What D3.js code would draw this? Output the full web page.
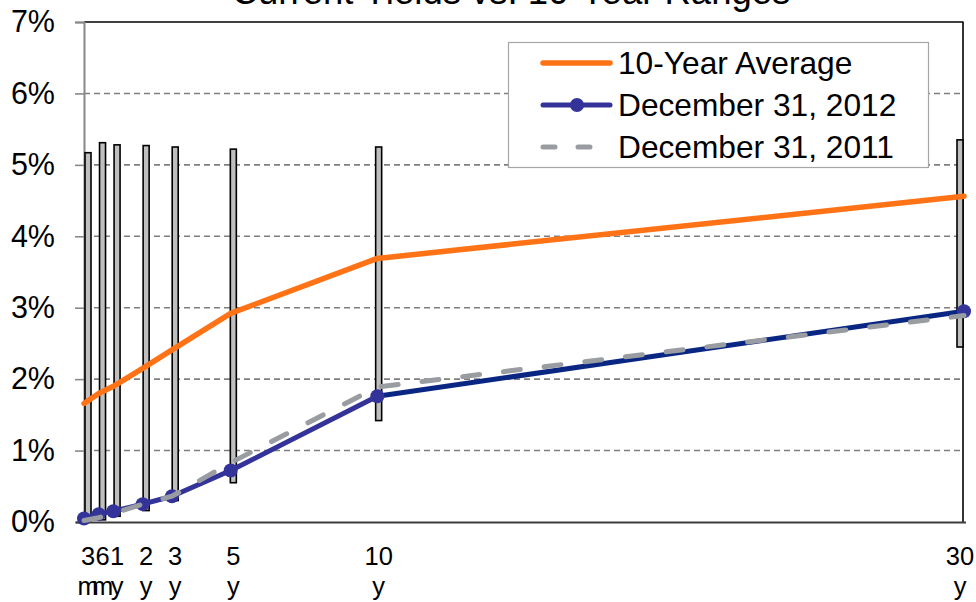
<!DOCTYPE html>
<html>
<head>
<meta charset="utf-8">
<script src="https://cdn.jsdelivr.net/npm/d3@7"></script>
<style>
  body { margin: 0; background: #fff; }
  svg { display: block; font-family: "Liberation Sans", Arial, sans-serif; }
</style>
</head>
<body>
<svg id="chart" width="976" height="602"></svg>
<script>
// Treasury maturities and their position on the (linear) years axis
const maturityTop = ["3", "6", "1", "2", "3", "5", "10", "30"];
const maturityUnit = ["m", "m", "y", "y", "y", "y", "y", "y"];
const years = [0, 0.5, 1, 2, 3, 5, 10, 30];

// 10-year high/low range per maturity (%)
const rangeHigh = [5.17, 5.31, 5.28, 5.27, 5.25, 5.22, 5.25, 5.35];
const rangeLow = [0.00, 0.03, 0.08, 0.16, 0.30, 0.55, 1.42, 2.45];

// Yield curves (%)
const avg10y = [1.66, 1.80, 1.90, 2.15, 2.41, 2.92, 3.69, 4.56];
const dec2012 = [0.05, 0.11, 0.15, 0.25, 0.36, 0.72, 1.76, 2.95];
const dec2011 = [0.02, 0.06, 0.12, 0.25, 0.36, 0.83, 1.89, 2.89];

const yTicks = [0, 1, 2, 3, 4, 5, 6, 7];
const legendLabels = ["10-Year Average", "December 31, 2012", "December 31, 2011"];

(function drawChart() {
  const svg = d3.select("#chart");
  const plotLeft = 84, plotRight = 963, plotTop = 22, plotBottom = 522;

  const x = d3.scaleLinear().domain([0, 30]).range([plotLeft, 964]);
  const xBar = d3.scaleLinear().domain([0, 30]).range([88, 960]);
  const y = d3.scaleLinear().domain([0, 7]).range([plotBottom, plotTop]);

  // Title (runs past the top edge)
  svg.append("text")
    .attr("x", 511).attr("y", 4)
    .attr("text-anchor", "middle")
    .attr("font-size", 36.5)
    .attr("fill", "#000")
    .text("Current Yields vs. 10-Year Ranges");

  // Horizontal gridlines
  svg.append("g").selectAll("line")
    .data(yTicks.filter(d => d > 0 && d < 7))
    .join("line")
    .attr("x1", plotLeft).attr("x2", plotRight)
    .attr("y1", d => y(d)).attr("y2", d => y(d))
    .attr("stroke", "#7f7f7f").attr("stroke-width", 1.6)
    .attr("stroke-dasharray", "6 4");

  // Top and right frame
  svg.append("line").attr("x1", plotLeft).attr("x2", plotRight + 0.5)
    .attr("y1", y(7)).attr("y2", y(7)).attr("stroke", "#000").attr("stroke-width", 1.6);
  svg.append("line").attr("x1", plotRight).attr("x2", plotRight)
    .attr("y1", y(7)).attr("y2", plotBottom).attr("stroke", "#000").attr("stroke-width", 1.6);

  // Y axis
  const yAxis = svg.append("g")
    .attr("transform", `translate(${plotLeft},0)`)
    .call(d3.axisLeft(y).tickValues(yTicks).tickSize(9).tickPadding(20)
      .tickFormat(d => d + "%"));
  yAxis.select(".domain").attr("stroke", "#888").attr("stroke-width", 2);
  yAxis.selectAll(".tick line").attr("stroke", "#888").attr("stroke-width", 1.6);
  yAxis.selectAll(".tick text")
    .attr("font-size", 30.5).attr("fill", "#000")
    .attr("font-family", "Liberation Sans, Arial, sans-serif")
    .attr("x", -29);

  // Range bars
  svg.append("g").selectAll("rect")
    .data(years.map((v, i) => ({ v, hi: rangeHigh[i], lo: rangeLow[i] })))
    .join("rect")
    .attr("x", d => xBar(d.v) - 3)
    .attr("width", 6)
    .attr("y", d => y(d.hi))
    .attr("height", d => y(d.lo) - y(d.hi))
    .attr("fill", "#bfbfbf")
    .attr("stroke", "#000")
    .attr("stroke-width", 1.6);

  // Bottom axis line
  svg.append("line").attr("x1", 76).attr("x2", 966)
    .attr("y1", plotBottom + 0.5).attr("y2", plotBottom + 0.5)
    .attr("stroke", "#3c3c3c").attr("stroke-width", 2);

  // X labels (two lines: number, unit)
  const xl = svg.append("g").attr("font-size", 25.5).attr("text-anchor", "middle").attr("fill", "#000");
  xl.selectAll("text.num").data(years).join("text").attr("class", "num")
    .attr("x", d => xBar(d)).attr("y", 565).text((d, i) => maturityTop[i]);
  xl.selectAll("text.unit").data(years).join("text").attr("class", "unit")
    .attr("x", d => xBar(d)).attr("y", 595).text((d, i) => maturityUnit[i]);

  const line = d3.line().x(d => x(d[0])).y(d => y(d[1]));

  // 10-year average
  svg.append("path")
    .attr("d", line(years.map((v, i) => [v, avg10y[i]])))
    .attr("fill", "none").attr("stroke", "#ff7316").attr("stroke-width", 5.5)
    .attr("stroke-linejoin", "round").attr("stroke-linecap", "round");

  // December 31, 2012
  const pts2012 = years.map((v, i) => [v, dec2012[i]]);
  svg.append("path")
    .attr("d", line(pts2012.slice(0, 7)))
    .attr("fill", "none").attr("stroke", "#333399").attr("stroke-width", 5)
    .attr("stroke-linejoin", "round");
  svg.append("path")
    .attr("d", line(pts2012.slice(6)))
    .attr("fill", "none").attr("stroke", "#0a2683").attr("stroke-width", 5);
  svg.append("g").selectAll("circle").data(pts2012).join("circle")
    .attr("cx", d => x(d[0])).attr("cy", d => y(d[1])).attr("r", 7)
    .attr("fill", "#333399");

  // December 31, 2011
  svg.append("path")
    .attr("d", line(years.map((v, i) => [v, dec2011[i]])))
    .attr("fill", "none").attr("stroke", "#999da1").attr("stroke-width", 5)
    .attr("stroke-dasharray", "17 24").attr("stroke-linecap", "round");

  // Legend
  const lg = svg.append("g");
  lg.append("rect").attr("x", 508.5).attr("y", 42.5).attr("width", 420).attr("height", 125)
    .attr("fill", "#fff").attr("stroke", "#a6a6a6").attr("stroke-width", 1.2);
  const rowsY = [63, 105, 147];
  lg.append("line").attr("x1", 543).attr("x2", 610).attr("y1", rowsY[0]).attr("y2", rowsY[0])
    .attr("stroke", "#ff7316").attr("stroke-width", 5.5).attr("stroke-linecap", "round");
  lg.append("line").attr("x1", 543).attr("x2", 610).attr("y1", rowsY[1]).attr("y2", rowsY[1])
    .attr("stroke", "#333399").attr("stroke-width", 5).attr("stroke-linecap", "round");
  lg.append("circle").attr("cx", 577).attr("cy", rowsY[1]).attr("r", 7).attr("fill", "#333399");
  lg.append("line").attr("x1", 543).attr("x2", 610).attr("y1", rowsY[2]).attr("y2", rowsY[2])
    .attr("stroke", "#999da1").attr("stroke-width", 5).attr("stroke-linecap", "round")
    .attr("stroke-dasharray", "12 23");
  lg.selectAll("text").data(legendLabels).join("text")
    .attr("x", 618).attr("y", (d, i) => rowsY[i] + 11)
    .attr("font-size", 31.7).attr("fill", "#000")
    .text(d => d);
})();
</script>
</body>
</html>
